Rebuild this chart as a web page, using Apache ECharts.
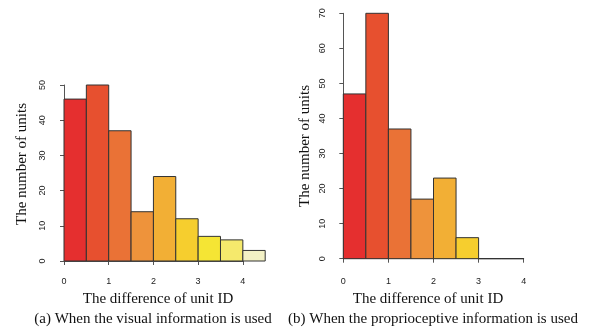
<!DOCTYPE html>
<html>
<head>
<meta charset="utf-8">
<script src="https://cdn.jsdelivr.net/npm/echarts@6/dist/echarts.min.js"></script>
<style>html,body{margin:0;padding:0;background:#fff}#c{width:595px;height:333px}</style>
</head>
<body>
<div id="c"></div>
<script>
// Bin left edges (difference of unit ID), width 0.5
var binsA = [0, 0.5, 1, 1.5, 2, 2.5, 3, 3.5, 4];
var countsA = [46, 50, 37, 14, 24, 12, 7, 6, 3];
var binsB = [0, 0.5, 1, 1.5, 2, 2.5, 3, 3.5];
var countsB = [47, 70, 37, 17, 23, 6, 0, 0];
var binWidth = 0.5;
var xTicks = [0, 1, 2, 3, 4];
var colorsA = ['#E52F2F', '#E7502F', '#EA7236', '#EE933B', '#F2AF35', '#F6CE2E', '#F5E534', '#F5E96C', '#F3F1C5'];
var colorsB = ['#E52F2F', '#E7502F', '#EA7236', '#EE933B', '#F2AF35', '#F6CE2E', '#F5E534', '#F5E96C'];
var yTitle = 'The number of units';
var xTitle = 'The difference of unit ID';
var captionA = '(a) When the visual information is used';
var captionB = '(b) When the proprioceptive information is used';

var chart = echarts.init(document.getElementById('c'), null, {renderer: 'canvas'});
var axisCol = '#555';
var tickFont = {fontFamily: 'Liberation Sans', fontSize: 9, color: '#222'};
var titleFont = '15px "Liberation Serif"';

function histSeries(bins, counts, colors, xi, yi) {
  return {
    type: 'custom',
    xAxisIndex: xi, yAxisIndex: yi,
    data: bins.map(function (b, i) { return [b, counts[i], i]; }),
    renderItem: function (params, api) {
      var x0 = api.value(0), v = api.value(1), idx = api.value(2);
      var p0 = api.coord([x0, v]);
      var p1 = api.coord([x0 + binWidth, 0]);
      return {
        type: 'rect',
        shape: {x: p0[0], y: p0[1], width: p1[0] - p0[0], height: p1[1] - p0[1]},
        style: {fill: colors[idx], stroke: '#333', lineWidth: 1}
      };
    }
  };
}

function xAxisDef(grid, max, show, offset) {
  return {
    type: 'value', gridIndex: grid, min: 0, max: max, interval: 1, offset: offset,
    show: show,
    axisLine: {show: true, lineStyle: {color: axisCol, width: 1}},
    axisTick: {show: true, length: 4, lineStyle: {color: axisCol}},
    axisLabel: Object.assign({margin: 9}, tickFont),
    splitLine: {show: false}
  };
}

function yAxisDef(grid, max, show, offset) {
  return {
    type: 'value', gridIndex: grid, min: 0, max: max, interval: 10, offset: offset,
    show: show,
    axisLine: {show: true, lineStyle: {color: axisCol, width: 1}},
    axisTick: {show: true, length: 4, lineStyle: {color: axisCol}},
    axisLabel: Object.assign({margin: 8, rotate: 90}, tickFont),
    splitLine: {show: false}
  };
}

function txt(x, y, s, rot) {
  return {type: 'text', x: x, y: y, rotation: rot || 0,
    style: {text: s, font: titleFont, fill: '#111', textAlign: 'center', textVerticalAlign: 'middle'}};
}

var option = {
  animation: false,
  grid: [
    {left: 64, top: 85, width: 201.2, height: 176},
    {left: 64, top: 85, width: 178.8, height: 176},
    {left: 343.3, top: 13.3, width: 180.4, height: 245.4}
  ],
  xAxis: [
    xAxisDef(0, 4.5, false, 0),
    xAxisDef(1, 4, true, 7),
    xAxisDef(2, 4, true, 9.5)
  ],
  yAxis: [
    yAxisDef(0, 50, true, 9),
    yAxisDef(1, 50, false, 0),
    yAxisDef(2, 70, true, 8.5)
  ],
  series: [
    histSeries(binsA, countsA, colorsA, 0, 0),
    histSeries(binsB, countsB, colorsB, 2, 2)
  ],
  graphic: [
    txt(22, 164, yTitle, Math.PI / 2),
    txt(305, 146, yTitle, Math.PI / 2),
    txt(158, 299, xTitle),
    txt(428, 299, xTitle),
    txt(153, 319, captionA),
    txt(433, 319, captionB)
  ]
};
chart.setOption(option);
</script>
</body>
</html>
